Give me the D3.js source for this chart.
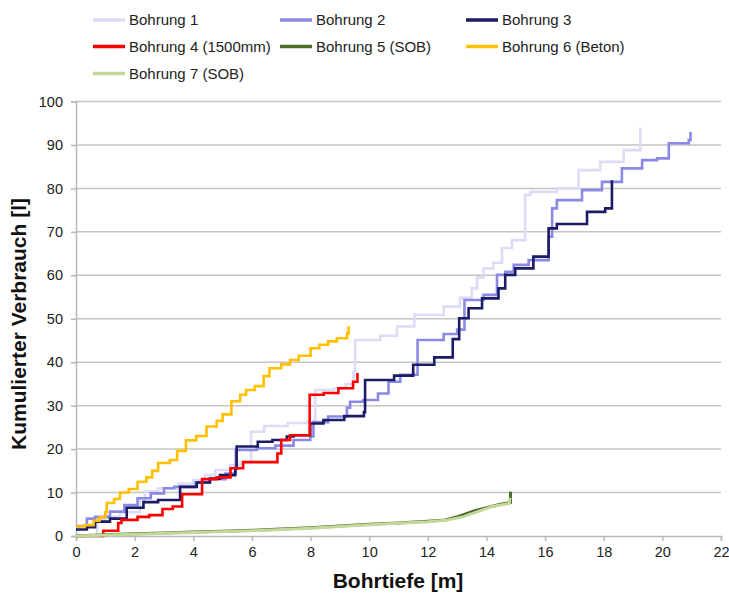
<!DOCTYPE html>
<html><head><meta charset="utf-8">
<script src="https://cdn.jsdelivr.net/npm/d3@7"></script>
<style>body{margin:0;background:#fff}svg{display:block}text{font-family:"Liberation Sans",Arial,sans-serif}</style>
</head><body>
<svg id="c" width="729" height="593"></svg>
<script>
// ---- data (depth [m], cumulative consumption [l]) ----
const seriesNames = ["Bohrung 1","Bohrung 2","Bohrung 3","Bohrung 4 (1500mm)","Bohrung 5 (SOB)","Bohrung 6 (Beton)","Bohrung 7 (SOB)"];
const seriesColors = ["#dcdcf6","#8a8ae6","#1b1b66","#ff0000","#4f6b2c","#ffc000","#c3d89b"];
const seriesStepped = [true,true,true,true,false,true,false];
const xTicks = [0,2,4,6,8,10,12,14,16,18,20,22];
const yTicks = [0,10,20,30,40,50,60,70,80,90,100];

const bohrung1 = [[0,0],[0.72,3.7],[1.0,4.4],[1.5,5.5],[2.18,8.3],[2.35,10.3],[2.8,11],[3.5,12],[4.0,12.9],[4.4,14],[4.75,15.2],[5.26,16.3],[5.6,17],[5.97,24],[6.42,25.3],[7.22,26],[7.9,26.4],[8.16,33.6],[8.8,34],[9.2,35],[9.47,37.8],[9.52,45.1],[10.38,46.1],[10.95,48.2],[11.54,50.9],[12.54,52.8],[13.1,54.8],[13.5,57],[13.68,59.5],[13.9,61.6],[14.24,62.9],[14.53,66.3],[14.87,68.1],[15.32,78.5],[15.5,79.2],[16.4,80],[17.14,84.2],[17.88,86.1],[18.68,88.8],[19.25,94]];
const bohrung2 = [[0,2.3],[0.37,4],[0.65,4.4],[1.16,5.6],[1.65,7.1],[2.1,8.7],[2.55,9.8],[3.0,11],[3.35,11.3],[4.08,12.3],[4.55,13.1],[5.1,14.4],[5.45,19.8],[6.17,20.2],[6.8,20.8],[7.42,22.1],[7.99,22.9],[8.1,26.2],[8.6,27.5],[9.24,29.5],[9.35,30.9],[9.8,31.3],[10.3,32.8],[10.66,35.5],[11.06,37.1],[11.65,45.1],[12.54,46.5],[13.0,47.5],[13.25,54.3],[13.9,55.5],[14.36,60.1],[14.64,60.8],[14.93,62.4],[15.44,63.5],[16.12,68.9],[16.24,75.4],[16.4,77.3],[17.26,79.6],[17.94,81.5],[18.62,84.6],[19.31,86.5],[19.82,86.9],[20.22,90.4],[20.9,91.1],[20.96,93]];
const bohrung3 = [[0,1.5],[0.37,2],[0.65,3.3],[1.16,4],[1.73,6.5],[2.3,7.8],[2.8,8.3],[3.55,11.3],[4.12,12.3],[4.57,13.2],[4.91,14],[5.43,15.5],[5.48,20.6],[6.2,21.7],[6.7,22.1],[7.19,22.9],[7.42,23.2],[7.99,25.9],[8.44,26.7],[9.15,27.6],[9.82,28.5],[9.86,35.9],[10.85,36.9],[11.5,39.4],[12.22,41.1],[12.85,45.3],[13.07,50.1],[13.39,52.4],[13.85,54.7],[14.41,57],[14.64,60.1],[14.98,61.6],[15.6,64.3],[16.12,70.8],[16.4,71.8],[17.43,74.6],[18.05,75.4],[18.28,81.9]];
const bohrung4 = [[0,0],[0.93,1.2],[1.44,3.0],[1.55,3.7],[2.1,4.4],[2.5,4.8],[2.95,6.2],[3.3,6.8],[3.62,9.6],[4.3,13.1],[4.8,13.5],[5.27,15.6],[5.7,17],[6.87,19],[7.0,22.1],[7.3,23.2],[7.97,32.5],[8.45,32.9],[8.95,34],[9.45,35.5],[9.6,37.5]];
const bohrung5 = [[0,0],[1,0.3],[2,0.5],[3,0.7],[4,0.9],[5,1.1],[6,1.3],[7,1.6],[8,1.9],[9,2.3],[10,2.7],[11,3.0],[12,3.4],[12.6,3.7],[13.1,4.6],[13.6,5.8],[14,6.5],[14.4,7.2],[14.82,7.7],[14.82,10.2]];
const bohrung6 = [[0,2.2],[0.3,2.5],[0.6,3.5],[0.8,4.3],[1.0,5.5],[1.05,7.6],[1.3,8.5],[1.5,10],[1.8,10.8],[2.1,12.5],[2.4,13.5],[2.6,15],[2.8,16.8],[3.2,17.5],[3.45,19.6],[3.75,22],[4.1,23],[4.45,25.2],[4.8,26.5],[5.0,28],[5.3,31],[5.6,32.5],[5.8,33.6],[6.1,34.5],[6.4,36.8],[6.6,38.6],[7.0,39.5],[7.3,40.5],[7.6,41.5],[8.0,43.2],[8.3,44],[8.6,44.8],[8.9,45.5],[9.25,46.7],[9.3,48.3]];
const bohrung7 = [[0,0],[2,0.4],[4,0.8],[6,1.2],[8,1.8],[10,2.6],[12,3.3],[12.6,3.6],[13.2,4.4],[13.7,5.6],[14.2,6.8],[14.78,7.5],[14.8,8.8]];
const seriesData = [bohrung1,bohrung2,bohrung3,bohrung4,bohrung5,bohrung6,bohrung7];

// ---- layout ----
const svg = d3.select("#c");
const x = d3.scaleLinear().domain([0,22]).range([76,721]);
const y = d3.scaleLinear().domain([0,100]).range([536,101.5]);
const gridColor = "#c4c4c4", axisColor = "#b8b8b8";

// gridlines
svg.append("g").selectAll("line").data(yTicks.filter(d=>d>0)).join("line")
  .attr("x1",x(0)).attr("x2",x(22)).attr("y1",d=>y(d)).attr("y2",d=>y(d))
  .attr("stroke",gridColor).attr("stroke-width",1.5);

// y axis
const yAxis = svg.append("g").attr("transform",`translate(${x(0)},0)`)
  .call(d3.axisLeft(y).tickValues(yTicks).tickSize(5).tickPadding(8).tickFormat(d3.format("d")));
// x axis
const xAxis = svg.append("g").attr("transform",`translate(0,${y(0)})`)
  .call(d3.axisBottom(x).tickValues(xTicks).tickSize(5).tickPadding(6).tickFormat(d3.format("d")));
[yAxis,xAxis].forEach(a=>{
  a.select(".domain").attr("stroke",axisColor).attr("stroke-width",1.5);
  a.selectAll(".tick line").attr("stroke",axisColor).attr("stroke-width",1.5);
  a.selectAll(".tick text").attr("fill","#222").style("font-size","14.5px").style("font-family","'Liberation Sans',Arial,sans-serif");
});

// series
const stepLine = d3.line().x(d=>x(d[0])).y(d=>y(d[1])).curve(d3.curveStepAfter);
const linLine = d3.line().x(d=>x(d[0])).y(d=>y(d[1]));
seriesData.forEach((data,i)=>{
  svg.append("path").datum(data)
    .attr("d", seriesStepped[i] ? stepLine : linLine)
    .attr("fill","none").attr("stroke",seriesColors[i])
    .attr("stroke-width",i===4||i===6?3:2.6).attr("stroke-linejoin","miter");
});

// axis titles
svg.append("text").attr("x",398).attr("y",588).attr("text-anchor","middle")
  .style("font-size","21px").style("font-weight","bold").attr("fill","#111").text("Bohrtiefe [m]");
svg.append("text").attr("transform","translate(26,324) rotate(-90)").attr("text-anchor","middle")
  .style("font-size","21px").style("font-weight","bold").attr("fill","#111").text("Kumulierter Verbrauch [l]");

// legend
const legCols = [93,280,466], legRows = [20,46.5,73.5];
const leg = svg.append("g");
seriesNames.forEach((name,i)=>{
  const cx = legCols[i%3], cy = legRows[Math.floor(i/3)];
  leg.append("line").attr("x1",cx).attr("x2",cx+32).attr("y1",cy).attr("y2",cy)
    .attr("stroke",seriesColors[i]).attr("stroke-width",3.5);
  leg.append("text").attr("x",cx+36).attr("y",cy+5).style("font-size","15px").attr("fill","#222").text(name);
});
</script>
</body></html>
